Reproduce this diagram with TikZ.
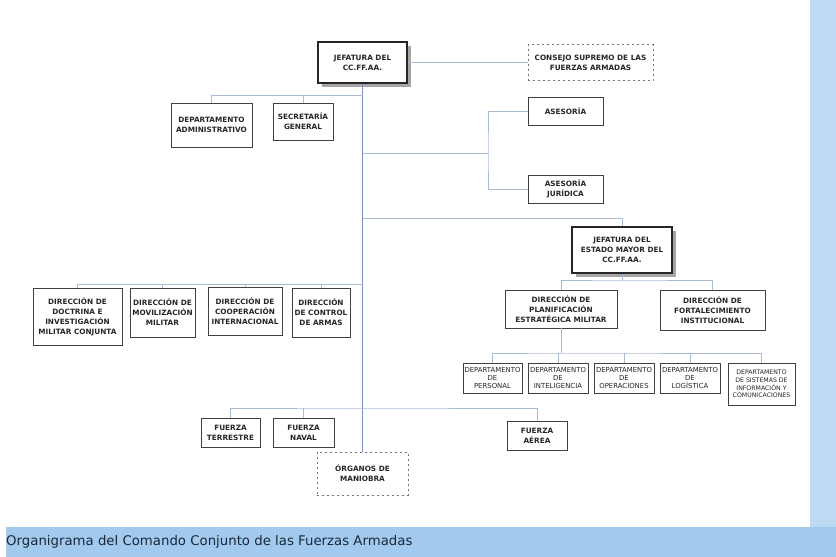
\documentclass[tikz,border=0pt]{standalone}
\usepackage{fontspec}
\newfontfamily\orgfont{DejaVu Sans}
\usetikzlibrary{calc,shadows}
\definecolor{trunkblue}{HTML}{7C93C3}
\definecolor{linkblue}{HTML}{A9BAD6}
\definecolor{barblue}{HTML}{A2CAEE}
\definecolor{stripblue}{HTML}{BEDAF2}
\definecolor{captext}{HTML}{1B2838}

\begin{document}
\begin{tikzpicture}[x=1pt, y=-1pt,
    unit/.style={draw=black!75, line width=0.8pt, fill=white, align=center,
      inner sep=0pt, text=black!85,
      font=\orgfont\bfseries\fontsize{7.3}{10}\selectfont},
    head/.style={unit, line width=1.6pt, draw=black!85,
      drop shadow={shadow xshift=4pt, shadow yshift=-4pt, fill=black!35, opacity=1}},
    ghost/.style={unit, draw=black!55, dash pattern=on 2pt off 3pt},
    dept/.style={unit, font=\orgfont\fontsize{6.9}{8.3}\selectfont},
    link/.style={draw=linkblue, line width=0.9pt},
    trunk/.style={draw=trunkblue, line width=1.6pt}]

  \useasboundingbox (0,0) rectangle (836,557);
  \fill[stripblue] (810,0) rectangle (836,527);
  \fill[barblue] (6,527) rectangle (836,557);
  \node[anchor=west, inner sep=0pt, text=captext,
    font=\orgfont\fontsize{13.3}{16}\selectfont] (caption) at (6,542)
    {Organigrama del Comando Conjunto de las Fuerzas Armadas};

  % mando
  \node[head, minimum width=89pt, minimum height=41pt] (jefatura) at (362.5,62.5) {JEFATURA DEL\\CC.FF.AA.};
  \node[ghost, minimum width=125pt, minimum height=36pt] (consejo) at (590.5,62.5) {CONSEJO SUPREMO DE LAS\\FUERZAS ARMADAS};
  \node[unit, minimum width=81pt, minimum height=44pt] (dadm) at (211.5,125) {DEPARTAMENTO\\ADMINISTRATIVO};
  \node[unit, minimum width=60pt, minimum height=37pt] (secgen) at (303,121.5) {SECRETARÍA\\GENERAL};
  \node[unit, minimum width=75pt, minimum height=28pt] (asesoria) at (565.5,111) {ASESORÍA};
  \node[unit, minimum width=75pt, minimum height=28pt] (asejur) at (565.5,189) {ASESORÍA\\JURÍDICA};

  % estado mayor
  \node[head, minimum width=100pt, minimum height=46pt] (jem) at (622,250) {JEFATURA DEL\\ESTADO MAYOR DEL\\CC.FF.AA.};
  \node[unit, minimum width=112pt, minimum height=38pt] (dpem) at (561,309) {DIRECCIÓN DE\\PLANIFICACIÓN\\ESTRATÉGICA MILITAR};
  \node[unit, minimum width=105pt, minimum height=40pt] (dfi) at (712.5,310) {DIRECCIÓN DE\\FORTALECIMIENTO\\INSTITUCIONAL};
  \node[dept, minimum width=59pt, minimum height=30pt] (dpers) at (492.5,378) {DEPARTAMENTO\\DE\\PERSONAL};
  \node[dept, minimum width=60pt, minimum height=30pt] (dint) at (558,378) {DEPARTAMENTO\\DE\\INTELIGENCIA};
  \node[dept, minimum width=60pt, minimum height=30pt] (dope) at (624,378) {DEPARTAMENTO\\DE\\OPERACIONES};
  \node[dept, minimum width=60pt, minimum height=30pt] (dlog) at (690,378) {DEPARTAMENTO\\DE\\LOGÍSTICA};
  \node[dept, minimum width=67pt, minimum height=42pt, font=\orgfont\fontsize{6.2}{7.6}\selectfont] (dsic) at (761.5,384)
    {DEPARTAMENTO\\DE SISTEMAS DE\\INFORMACIÓN Y\\COMUNICACIONES};

  % direcciones
  \node[unit, minimum width=89pt, minimum height=57pt] (ddoc) at (77.5,316.5) {DIRECCIÓN DE\\DOCTRINA E\\INVESTIGACIÓN\\MILITAR CONJUNTA};
  \node[unit, minimum width=65pt, minimum height=49pt] (dmov) at (162.5,312.5) {DIRECCIÓN DE\\MOVILIZACIÓN\\MILITAR};
  \node[unit, minimum width=74pt, minimum height=48pt] (dcoop) at (245,311) {DIRECCIÓN DE\\COOPERACIÓN\\INTERNACIONAL};
  \node[unit, minimum width=58pt, minimum height=49pt] (dctrl) at (321,312.5) {DIRECCIÓN\\DE CONTROL\\DE ARMAS};

  % fuerzas
  \node[unit, minimum width=59pt, minimum height=29pt] (fter) at (230.5,432.5) {FUERZA\\TERRESTRE};
  \node[unit, minimum width=61pt, minimum height=29pt] (fnav) at (303.5,432.5) {FUERZA\\NAVAL};
  \node[unit, minimum width=60pt, minimum height=29pt] (faer) at (537,435.5) {FUERZA\\AÉREA};
  \node[ghost, minimum width=91pt, minimum height=43pt] (organos) at (362.5,473.5) {ÓRGANOS DE\\MANIOBRA};

  \draw[trunk] (jefatura.south) -- (organos.north);
  \draw[link] (jefatura.east) -- (consejo.west);

  \coordinate (rowA) at (362.5,95);
  \draw[link] (rowA) -| (dadm.north);
  \draw[link] (secgen.north) -- (secgen.north |- rowA);

  \coordinate (rowB) at (362.5,153);
  \coordinate (forkB) at (488,153);
  \draw[link] (rowB) -- (forkB);
  \draw[link] (asesoria.west) -| (forkB) |- (asejur.west);

  \coordinate (rowC) at (362.5,218);
  \draw[link] (rowC) -| (jem.north);
  \coordinate (rowD) at (622,280);
  \draw[link] (jem.south) -- (rowD);
  \draw[link] (dpem.north) |- (rowD) -| (dfi.north);

  \coordinate (rowE) at (561,353);
  \draw[link] (dpem.south) -- (rowE);
  \draw[link] (dpers.north) |- (rowE) -| (dsic.north);
  \foreach \d in {dint,dope,dlog}
    \draw[link] (\d.north) -- (\d.north |- rowE);

  \coordinate (rowF) at (362.5,284);
  \draw[link] (rowF) -| (ddoc.north);
  \foreach \d in {dmov,dcoop,dctrl}
    \draw[link] (\d.north) -- (\d.north |- rowF);

  \coordinate (rowG) at (362.5,408);
  \draw[link] (fter.north) |- (rowG) -| (faer.north);
  \draw[link] (fnav.north) -- (fnav.north |- rowG);
\end{tikzpicture}
\end{document}
